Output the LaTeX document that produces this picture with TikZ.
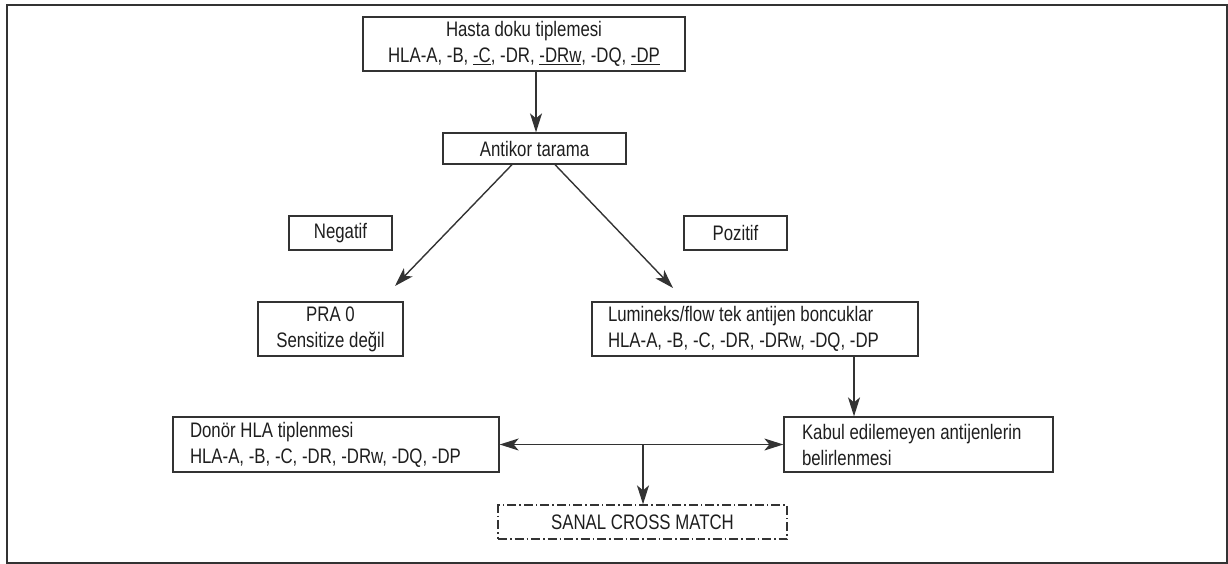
\documentclass[tikz,border=0pt]{standalone}
\usepackage{fontspec}
\setmainfont{Liberation Sans}[FakeStretch=0.8]
\usetikzlibrary{arrows.meta}
\definecolor{ink}{HTML}{1E1E1E}
\definecolor{ln}{HTML}{333333}
\newcommand\myboxfont{\fontsize{21}{26}\selectfont\spaceskip=4.7pt\relax}
\begin{document}
\begin{tikzpicture}[x=1pt,y=-1pt,
  box/.style={draw=ln,line width=1.3pt,text=ink,inner sep=0pt,
     font=\myboxfont,align=center},
  lbox/.style={box,align=flush left},
  arr/.style={draw=ln,line width=1.4pt,-{Stealth[length=19pt,width=12pt,inset=5pt]}},
  darr/.style={draw=ln,line width=1.4pt,{Stealth[length=19pt,width=12pt,inset=5pt]}-{Stealth[length=19pt,width=12pt,inset=5pt]}},
  dashdot/.style={dash pattern=on 9pt off 3pt on 1.5pt off 3pt}]
\useasboundingbox (0,0) rectangle (1228,564);
\draw[draw=ln,line width=2pt] (7,5) rectangle (1227,563);

\node[box,minimum width=322pt,minimum height=54pt] (top) at (524,44)
  {Hasta doku tiplemesi\\HLA-A, -B, \underline{-C}, -DR, \underline{-DRw}, -DQ, \underline{-DP}};
\node[box,minimum width=183pt,minimum height=31pt] (ant) at (534.5,148.5) {Antikor tarama};
\node[box,minimum width=103pt,minimum height=34pt] (neg) at (340.5,233) {Negatif};
\node[box,minimum width=103pt,minimum height=34pt] (poz) at (735.5,233) {Pozitif};
\node[box,minimum width=145pt,minimum height=54pt] (pra) at (330.5,329) {PRA 0\\Sensitize değil};
\node[lbox,minimum width=326pt,minimum height=54pt,text width=294pt,inner xsep=16pt] (lum) at (755,329)
  {\hbox{Lumineks/flow tek antijen boncuklar}\\\hbox{HLA-A, -B, -C, -DR, -DRw, -DQ, -DP}};
\node[lbox,minimum width=326pt,minimum height=55pt,text width=292pt,inner xsep=17pt] (don) at (336,444.5)
  {\hbox{Donör HLA tiplenmesi}\\\hbox{HLA-A, -B, -C, -DR, -DRw, -DQ, -DP}};
\node[lbox,minimum width=269pt,minimum height=55pt,text width=233pt,inner xsep=18pt] (kab) at (918.5,444.5)
  {\hbox{Kabul edilemeyen antijenlerin}\\\hbox{belirlenmesi}};
\node[box,dashdot,minimum width=289pt,minimum height=34pt] (san) at (642.5,522) {SANAL CROSS MATCH};

\coordinate (c1) at (536,0);
\coordinate (c2) at (854,0);
\coordinate (nl) at (395,286);
\coordinate (nr) at (673,288);
\coordinate (jn) at (643,0);

\draw[arr] (top.south -| c1) -- (ant.north -| c1);
\draw[arr] ([xshift=-22.5pt]ant.south) -- (nl);
\draw[arr] ([xshift=20.5pt]ant.south) -- (nr);
\draw[arr] (lum.south -| c2) -- (kab.north -| c2);
\draw[darr] (don.east) -- (kab.west);
\draw[arr] (don.east -| jn) -- (san.north -| jn);
\end{tikzpicture}
\end{document}
